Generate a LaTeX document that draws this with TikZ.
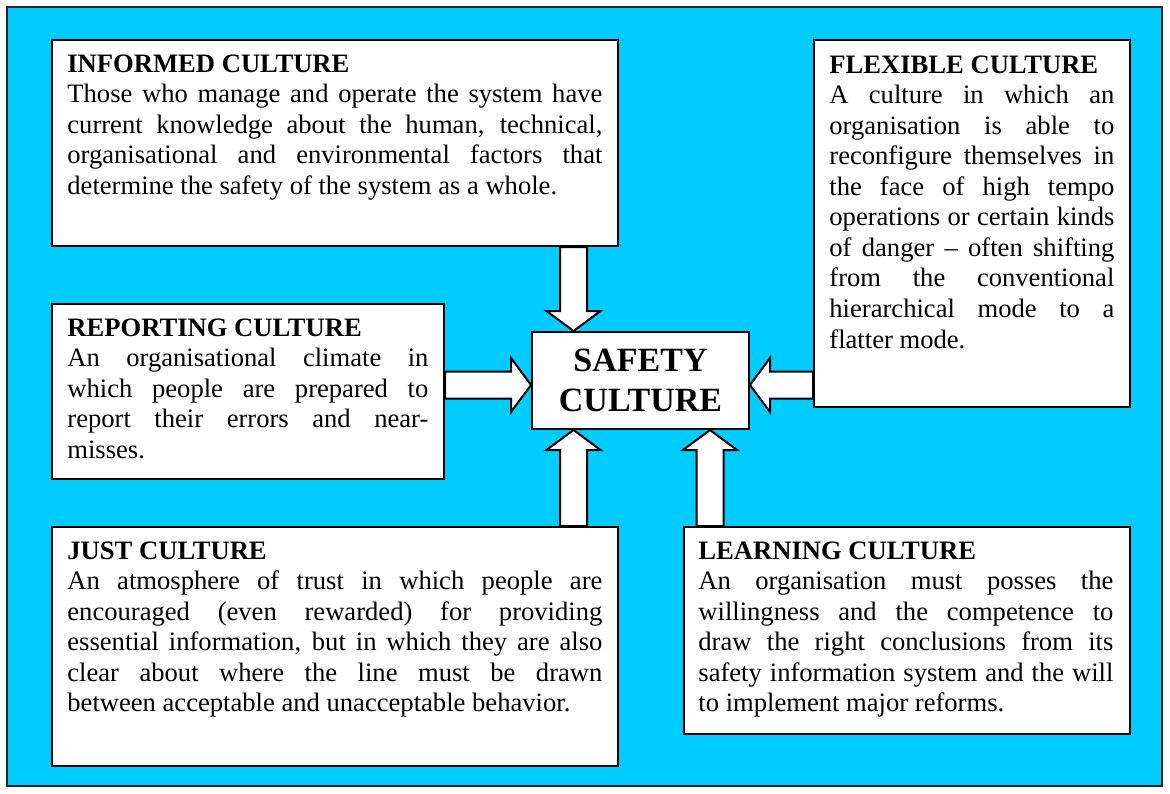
\documentclass[tikz,border=0pt]{standalone}
\usepackage{fontspec}
\setmainfont{Liberation Serif}
\usetikzlibrary{calc}
\definecolor{bgcyan}{RGB}{0,204,255}
\newcommand\jl[1]{\makebox[\hsize][s]{\spaceskip=0pt\xspaceskip=0pt #1}\\}
\newcommand\normsp{\spaceskip=0pt\xspaceskip=0pt\relax}
\newcommand\varrow[2]{\draw[barrow] let \p1=(#1), \p2=(#2), \n1={sign(\y2-\y1)*10} in
  ({\x1-6.75pt},{\y1}) -- ({\x1-6.75pt},{\y2-(\n1)*1pt}) -- ({\x1-13.5pt},{\y2-(\n1)*1pt}) -- (\x1,\y2)
  -- ({\x1+13.5pt},{\y2-(\n1)*1pt}) -- ({\x1+6.75pt},{\y2-(\n1)*1pt}) -- ({\x1+6.75pt},{\y1}) -- cycle;}
\newcommand\harrow[2]{\draw[barrow] let \p1=(#1), \p2=(#2), \n1={sign(\x2-\x1)*10} in
  ({\x1},{\y1-6.75pt}) -- ({\x2-(\n1)*1pt},{\y1-6.75pt}) -- ({\x2-(\n1)*1pt},{\y1-13.5pt}) -- (\x2,\y1)
  -- ({\x2-(\n1)*1pt},{\y1+13.5pt}) -- ({\x2-(\n1)*1pt},{\y1+6.75pt}) -- ({\x1},{\y1+6.75pt}) -- cycle;}
\tikzset{
  box/.style={draw=black, fill=white, line width=1pt, inner sep=0pt, anchor=north west},
  txt/.style={anchor=north west, inner sep=0pt, align=left,
    font=\fontsize{13.3pt}{15.28pt}\selectfont},
  barrow/.style={draw=black, fill=white, line width=1pt, line join=miter},
}
\begin{document}
\begin{tikzpicture}[x=0.5pt, y=-0.5pt]
\useasboundingbox (0,0) rectangle (1170,793);
\draw[fill=bgcyan, draw=black!85, line width=1pt] (7,7) rectangle (1162,786);

\node[box, minimum width=283pt, minimum height=103pt] (informed) at (51,39) {};
\node[box, minimum width=196pt, minimum height=87.5pt] (reporting) at (51,303) {};
\node[box, minimum width=158pt, minimum height=183.5pt] (flexible) at (813,39) {};
\node[box, minimum width=283pt, minimum height=119.5pt] (just) at (51,526) {};
\node[box, minimum width=223pt, minimum height=103.5pt] (learning) at (683,526) {};
\node[box, minimum width=108.5pt, minimum height=48.5pt] (safety) at (531,331) {};

\node[align=center, inner sep=0pt, font=\fontsize{17pt}{20pt}\selectfont\bfseries] (safetytext) at (safety.center) {SAFETY\\CULTURE};

\node[txt, text width=267.5pt] (informedtext) at ($(informed.north west)+(16,15)$) {\normsp
\textbf{INFORMED CULTURE}\\
\jl{Those who manage and operate the system have}
\jl{current knowledge about the human, technical,}
\jl{organisational and environmental factors that}
determine the safety of the system as a whole.};

\node[txt, text width=180.5pt] (reportingtext) at ($(reporting.north west)+(16,15)$) {\normsp
\textbf{REPORTING CULTURE}\\
\jl{An organisational climate in}
\jl{which people are prepared to}
\jl{report their errors and near-}
misses.};

\node[txt, text width=142.5pt] (flexibletext) at ($(flexible.north west)+(16,16)$) {\normsp
\textbf{FLEXIBLE CULTURE}\\
\jl{A culture in which an}
\jl{organisation is able to}
\jl{reconfigure themselves in}
\jl{the face of high tempo}
\jl{operations or certain kinds}
\jl{of danger – often shifting}
\jl{from the conventional}
\jl{hierarchical mode to a}
flatter mode.};

\node[txt, text width=267.5pt] (justtext) at ($(just.north west)+(16,15)$) {\normsp
\textbf{JUST CULTURE}\\
\jl{An atmosphere of trust in which people are}
\jl{encouraged (even rewarded) for providing}
\jl{essential information, but in which they are also}
\jl{clear about where the line must be drawn}
between acceptable and unacceptable behavior.};

\node[txt, text width=207.5pt] (learningtext) at ($(learning.north west)+(15,15)$) {\normsp
\textbf{LEARNING CULTURE}\\
\jl{An organisation must posses the}
\jl{willingness and the competence to}
\jl{draw the right conclusions from its}
\jl{safety information system and the will}
to implement major reforms.};

\coordinate (colA) at (573.5,0);
\coordinate (colB) at (710,0);
\coordinate (rowA) at (0,385);

\varrow{informed.south -| colA}{safety.north -| colA}
\varrow{just.north -| colA}{safety.south -| colA}
\varrow{learning.north -| colB}{safety.south -| colB}
\harrow{reporting.east |- rowA}{safety.west |- rowA}
\harrow{flexible.west |- rowA}{safety.east |- rowA}
\end{tikzpicture}
\end{document}
